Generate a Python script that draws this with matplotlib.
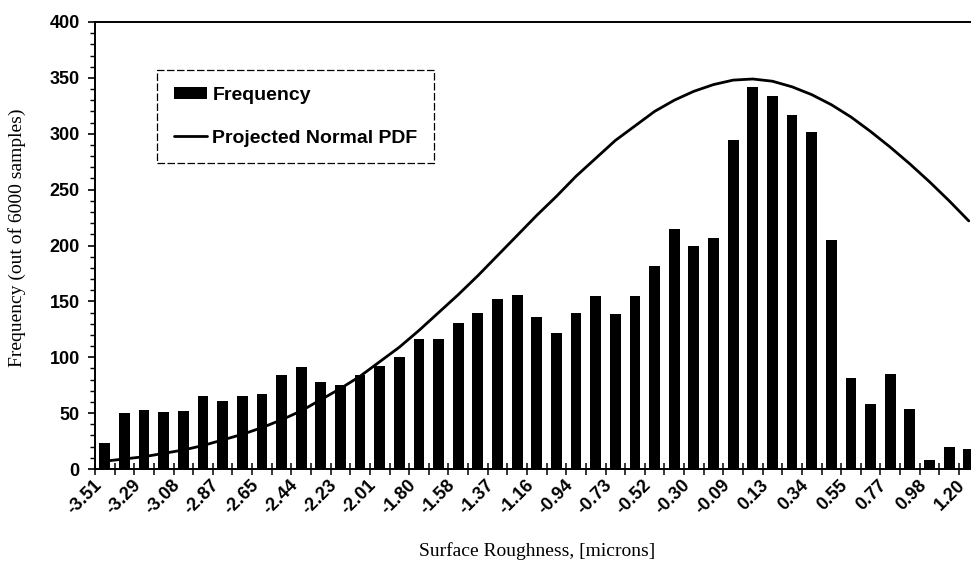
import matplotlib
matplotlib.use("Agg")
import matplotlib.pyplot as plt
import matplotlib.transforms as mtransforms
from matplotlib.font_manager import FontProperties
from matplotlib.ticker import MultipleLocator, FixedLocator, NullFormatter

# Histogram of surface roughness (45 bins, every other bin labelled)
tick_labels = ["-3.51", "-3.29", "-3.08", "-2.87", "-2.65", "-2.44", "-2.23", "-2.01",
               "-1.80", "-1.58", "-1.37", "-1.16", "-0.94", "-0.73", "-0.52", "-0.30",
               "-0.09", "0.13", "0.34", "0.55", "0.77", "0.98", "1.20"]

frequency = [23, 50, 53, 51, 52, 65, 61, 65, 67, 84, 91, 78, 75, 84, 92, 100,
             116, 116, 131, 140, 152, 156, 136, 122, 140, 155, 139, 155, 182, 215,
             200, 207, 294, 342, 334, 317, 302, 205, 81, 58, 85, 54, 8, 20, 18]

normal_pdf = [7, 9, 11, 14, 17, 21, 26, 31, 37, 44, 52, 62, 72, 83, 96, 109,
              124, 140, 156, 173, 191, 209, 227, 244, 262, 278, 294, 307, 320, 330,
              338, 344, 348, 349, 347, 342, 335, 326, 315, 302, 288, 273, 257, 240, 222]

W, H = 971, 567
fig = plt.figure(figsize=(W / 100, H / 100), dpi=100)
ax = fig.add_axes([95 / W, 98 / H, 883.6 / W, 447 / H])

idx = list(range(len(frequency)))
bars = ax.bar(idx, frequency, width=0.55, color="black", label="Frequency", zorder=2)
line, = ax.plot(idx, normal_pdf, color="black", lw=2.0, label="Projected Normal PDF",
                solid_capstyle="round", zorder=3)

ax.set_xlim(-0.5, 44.5)
ax.set_ylim(0, 400)

for side in ("left", "bottom", "top"):
    ax.spines[side].set_linewidth(1.4)
    ax.spines[side].set_color("black")
ax.spines["right"].set_visible(False)

tick_font = dict(family="Liberation Sans", weight="bold", size=13)

# y axis: labelled every 50, minor marks every 10
ax.yaxis.set_major_locator(MultipleLocator(50))
ax.yaxis.set_minor_locator(MultipleLocator(10))
ax.tick_params(axis="y", which="major", direction="out", length=5, width=1.2, pad=6)
ax.tick_params(axis="y", which="minor", direction="out", length=3.5, width=1.0)
for t in ax.get_yticklabels():
    t.set_fontproperties(FontProperties(**tick_font))

# x axis: marks between categories, labels on every other category
ax.xaxis.set_major_locator(FixedLocator([i + 0.5 for i in range(-1, len(frequency))]))
ax.xaxis.set_major_formatter(NullFormatter())
ax.tick_params(axis="x", which="major", direction="inout", length=8, width=1.1)
label_pos = list(range(0, len(frequency), 2))
ax.set_xticks(label_pos, tick_labels, minor=True)
ax.tick_params(axis="x", which="minor", length=0, pad=10)
shift = mtransforms.ScaledTranslation(-6 / 100, 0, fig.dpi_scale_trans)
for t in ax.get_xticklabels(minor=True):
    t.set_fontproperties(FontProperties(**tick_font))
    t.set_rotation(45)
    t.set_ha("right")
    t.set_va("center")
    t.set_rotation_mode("anchor")
    t.set_transform(t.get_transform() + shift)

leg = ax.legend([bars, line], ["Frequency", "Projected Normal PDF"],
                loc="upper left", bbox_to_anchor=(157 / W, 1 - 70 / H),
                bbox_transform=fig.transFigure, borderaxespad=0,
                prop=dict(family="Liberation Sans", weight="bold", size=14),
                handlelength=1.7, handleheight=0.55, handletextpad=0.3,
                labelspacing=1.35, borderpad=0.85, fancybox=False, framealpha=1)
frame = leg.get_frame()
frame.set_edgecolor("black")
frame.set_linestyle((0, (6, 2)))
frame.set_linewidth(0.9)

fig.text(537 / W, 1 - 551 / H, "Surface Roughness, [microns]",
         family="Liberation Serif", size=14, ha="center", va="center")
fig.text(17 / W, 1 - 238 / H, "Frequency (out of 6000 samples)",
         family="Liberation Serif", size=14, ha="center", va="center", rotation=90)

fig.savefig("out.png", dpi=100)
